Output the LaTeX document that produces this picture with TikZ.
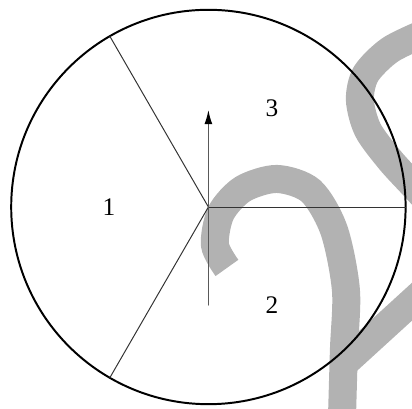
\documentclass[tikz,border=0pt]{standalone}
\usepackage{amsmath, tikz, tkz-euclide}
\usepackage{fontspec}
\setmainfont{Liberation Serif}
\usetikzlibrary{arrows.meta}

\tikzset{
  rim/.style={line width=1.4pt, black},
  spoke/.style={line width=0.7pt, black!80},
  normal arrow/.style={line width=0.9pt, black!65, -{Latex[length=10pt,width=5.6pt,black]}},
  sector label/.style={font=\fontsize{18}{20}\selectfont},
  mark stroke/.style={line width=0.7cm, black!30}
}

\begin{document}
\begin{tikzpicture}
    \useasboundingbox (0,0) rectangle (10.3,10.225);
    % gray mark behind the figure, in pixel units
    \begin{scope}[shift={(0,10.225)}, x=0.025cm, y=-0.025cm]
        \clip (0,0) rectangle (412,409);
        \draw[mark stroke] plot[smooth] coordinates {(227,268) (215,245) (221,213) (243,189) (277,179) (311,191) (334,230) (346,290) (344,350) (342,420)};
        \draw[mark stroke] (345,363) -- (425,290);
        \draw[mark stroke] plot[smooth] coordinates {(425,33) (390,50) (366,74) (360,100) (368,130) (390,160) (412,184) (425,198)};
    \end{scope}
    \tkzDefPoints{5.21/5.05/O, 10.14/5.05/A, 2.745/9.32/B, 2.745/0.78/C}
    \tkzDefPoints{5.21/2.6/T, 5.21/7.475/H}
    \tkzDrawCircle[rim](O,A)
    \tkzDrawSegments[spoke](O,A O,B O,C)
    \tkzDrawSegment[normal arrow](T,H)
    \node[sector label] (one) at (2.725,5.05) {1};
    \node[sector label] (three) at (6.8,7.525) {3};
    \node[sector label] (two) at (6.8,2.6) {2};
\end{tikzpicture}
\end{document}
